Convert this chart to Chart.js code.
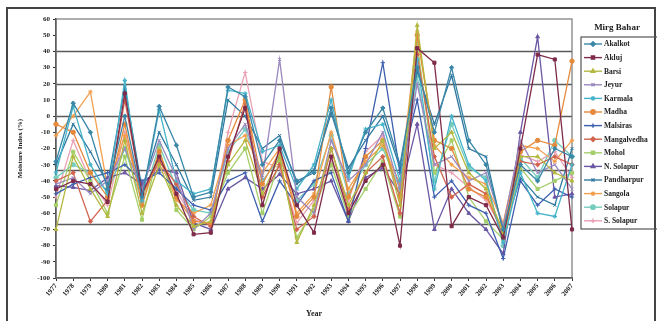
<!DOCTYPE html>
<html>
<head>
<meta charset="utf-8">
<style>
  html, body { margin: 0; padding: 0; background: #fff; }
  #wrap { width: 657px; height: 321px; }
</style>
<script src="https://cdn.jsdelivr.net/npm/chart.js@4.4.1/dist/chart.umd.min.js"></script>
</head>
<body>
<div id="wrap"><canvas id="lineChart-1" width="657" height="321"></canvas></div>
<script>
var years = ['1977','1978','1979','1980','1981','1982','1983','1984','1985','1986',
             '1987','1988','1989','1990','1991','1992','1993','1994','1995','1996',
             '1997','1998','1999','2000','2001','2002','2003','2004','2005','2006','2007'];

var akalkot     = [-28,  8,-10,-45,  0,-50,  6,-18,-50,-47, 18, 12,-30,-15,-40,-35,  5,-35,-10,  5,-30, 30,-10, 30,-15,-30,-70,-30,-40,-20,-25];
var akluj       = [-45,-40,-42,-53, 14,-48,-25,-48,-73,-72,-25,  5,-55,-20,-55,-72,-25,-60,-40,-30,-80, 42, 33,-68,-50,-55,-75,-20, 38, 35,-70];
var barsi       = [-70,-25,-45,-62,-15,-60,-30,-55,-68,-65,-30,-15,-48,-25,-78,-55,-20,-55,-35,-15,-55, 56,-20,-10,-35,-45,-72,-25,-25,-35,-40];
var jeyur       = [-42,-38,-48,-40,-20,-45,-15,-38,-70,-60,-20, -5,-38, 35,-50,-60,-15,-40,-30,-10,-45, 20,-30,-25,-40,-35,-68,-15,-35,-30,-45];
var karmala     = [-35,  6,-30,-48, 22,-52,  4,-40,-48,-45, 16, 14,-22,-18,-45,-30, 10,-38, -8, -5,-40, 35,-45,  0,-30,-40,-78,-35,-60,-62,-30];
var madha       = [ -5,-10,-35,-50, -5,-55,-22,-50,-65,-66,-15, 10,-42,-22,-62,-50, 18,-50,-25,-15,-50, 50,-15,-20,-45,-50,-70,-22,-15,-18, 34];
var malsiras    = [-48,-42,-38,-35,-30,-40,-35,-45,-55,-58,-40,-35,-65,-40,-55,-40,-35,-65,-20, 33,-35, 10,-50,-40,-55,-60,-88,-40,-55,-45,-50];
var mangalvedha = [-40,-35,-65,-52, 10,-48,-28,-42,-62,-68,-28,  8,-50,-30,-70,-62,-20,-58,-35,-25,-60, 38,-25,-50,-42,-48,-74,-28,-30,-25,-30];
var mohol       = [-55,-22,-40,-60,-25,-64,-20,-58,-70,-62,-35,-20,-60,-28,-75,-58,-30,-62,-45,-28,-62, 45,-35,-15,-50,-65,-76,-32,-45,-40,-35];
var nSolapur    = [-43,-44,-46,-38,-35,-42,-33,-35,-66,-70,-45,-38,-45,-36,-48,-45,-40,-65,-38,-32,-48, -5,-70,-45,-60,-70,-85,-10, 49,-50,-48];
var pandharpur  = [-30, -5,-22,-42, 18,-45,-10,-30,-52,-50, 10,  0,-20,-12,-42,-33,  2,-32,-15,  0,-32, 28, -5, 25,-20,-25,-72,-38,-50,-55,-20];
var sangola     = [-12,  0, 15,-44,-12,-50,-26,-52,-60,-55,-18,-12,-35,-20,-60,-48,-10,-45,-28,-18,-42, 52,-18,-30,-38,-42,-66,-18,-20,-28,-15];
var solapur     = [-38,-30,-35,-47,-20,-53,-18,-44,-58,-60,-22, -8,-40,-26,-52,-42,-12,-48,-30,-20,-45, 25,-40, -5,-32,-38,-80,-26,-38,-15,-25];
var sSolapur    = [-50,-15,-40,-55,-10,-46,-30,-46,-64,-67,-10, 27,-28,-32,-66,-52,-28,-52,-22,-12,-52, 40,-30,-35,-44,-52,-70,-24,-28,-22,-38];

var stations = ['Akalkot','Akluj','Barsi','Jeyur','Karmala','Madha','Malsiras','Mangalvedha',
                'Mohol','N. Solapur','Pandharpur','Sangola','Solapur','S. Solapur'];
var series = [akalkot, akluj, barsi, jeyur, karmala, madha, malsiras, mangalvedha,
              mohol, nSolapur, pandharpur, sangola, solapur, sSolapur];
var colours = ['#3A87A8','#7E2A4A','#B5B840','#9A88BE','#45B3C9','#E58A3C','#3D5FAE',
               '#D2644E','#A5CF6A','#6B57A3','#2F79A0','#F3A04E','#76CDBE','#EAA0B4'];
var markers = ['rectRot','rect','triangle','crossRot','star','circle','cross',
               'rectRot','rect','triangle','crossRot','star','circle','cross'];
var classLines = [40, 20, 0, -33.3, -66.7];

var serif = 'Liberation Serif, Times New Roman, serif';

var datasets = stations.map(function (name, i) {
    return {
        label: name,
        data: series[i],
        borderColor: colours[i],
        backgroundColor: colours[i],
        borderWidth: 1.3,
        pointStyle: markers[i],
        pointRadius: 2.2,
        pointBorderWidth: 1,
        tension: 0
    };
});

// horizontal class lines, plot frame and chart border
var framePlugin = {
    id: 'frame',
    beforeDatasetsDraw: function (chart) {
        var c = chart.ctx, a = chart.chartArea, y = chart.scales.y;
        c.save();
        c.strokeStyle = '#5a5a5a';
        c.lineWidth = 1.6;
        classLines.forEach(function (v) {
            var py = Math.round(y.getPixelForValue(v)) + 0.5;
            c.beginPath(); c.moveTo(a.left, py); c.lineTo(a.right, py); c.stroke();
        });
        c.strokeStyle = '#777';
        c.lineWidth = 1.2;
        c.strokeRect(a.left, a.top, a.right - a.left, a.bottom - a.top);
        c.restore();
    },
    afterDraw: function (chart) {
        var c = chart.ctx;
        c.save();
        c.strokeStyle = '#444';
        c.lineWidth = 2;
        c.strokeRect(7, 8, 648, 320);
        c.restore();
    }
};

// Excel-like legend box on the right
var legendPlugin = {
    id: 'boxLegend',
    afterDraw: function (chart) {
        var c = chart.ctx;
        var x0 = 581, top = 37, step = 13.6;
        c.save();
        c.fillStyle = '#222';
        c.font = 'bold 9px ' + serif;
        c.textAlign = 'center';
        c.textBaseline = 'middle';
        c.fillText('Mirg Bahar', 617, 28);
        c.strokeStyle = '#555';
        c.lineWidth = 1.2;
        c.strokeRect(x0, top, 80, 192);
        c.font = 'bold 7.5px ' + serif;
        c.textAlign = 'left';
        chart.data.datasets.forEach(function (ds, i) {
            var ly = top + 7 + i * step;
            c.strokeStyle = ds.borderColor;
            c.fillStyle = ds.borderColor;
            c.lineWidth = 1.4;
            c.beginPath(); c.moveTo(x0 + 3, ly); c.lineTo(x0 + 21, ly); c.stroke();
            Chart.helpers.drawPoint(c, { pointStyle: ds.pointStyle, radius: 2.2, rotation: 0, borderWidth: 1 }, x0 + 12, ly);
            c.fillStyle = '#222';
            c.fillText(ds.label, x0 + 23, ly + 0.5);
        });
        c.restore();
    }
};

var ctx = document.getElementById('lineChart-1').getContext('2d');
var myChart = new Chart(ctx, {
    type: 'line',
    data: {
        labels: years,
        datasets: datasets
    },
    options: {
        responsive: false,
        animation: false,
        devicePixelRatio: 1,
        layout: { padding: { left: 10, top: 19, right: 85, bottom: 2 } },
        plugins: {
            legend: { display: false },
            tooltip: { enabled: false }
        },
        scales: {
            x: {
                offset: false,
                grid: { drawOnChartArea: false, drawTicks: true, tickLength: 3, color: '#333' },
                border: { color: '#333', width: 1.5 },
                ticks: {
                    autoSkip: false, maxRotation: 50, minRotation: 50, padding: 1,
                    color: '#222', font: { family: serif, size: 7, weight: 'bold' }
                },
                title: {
                    display: true, text: 'Year', color: '#222', padding: { top: 1, bottom: 0 },
                    font: { family: serif, size: 8, weight: 'bold' }
                },
                afterFit: function (s) { s.height = 41; }
            },
            y: {
                min: -100, max: 60,
                grid: { drawOnChartArea: false, drawTicks: true, tickLength: 3, color: '#333' },
                border: { color: '#333', width: 1.5 },
                ticks: {
                    stepSize: 10, padding: 3, color: '#222',
                    font: { family: serif, size: 7, weight: 'bold' }
                },
                title: {
                    display: true, text: 'Moisture Index (%)', color: '#222', padding: { top: 6, bottom: 4 },
                    font: { family: serif, size: 7, weight: 'bold' }
                },
                afterFit: function (s) { s.width = 46; }
            }
        }
    },
    plugins: [framePlugin, legendPlugin]
});
</script>
</body>
</html>
